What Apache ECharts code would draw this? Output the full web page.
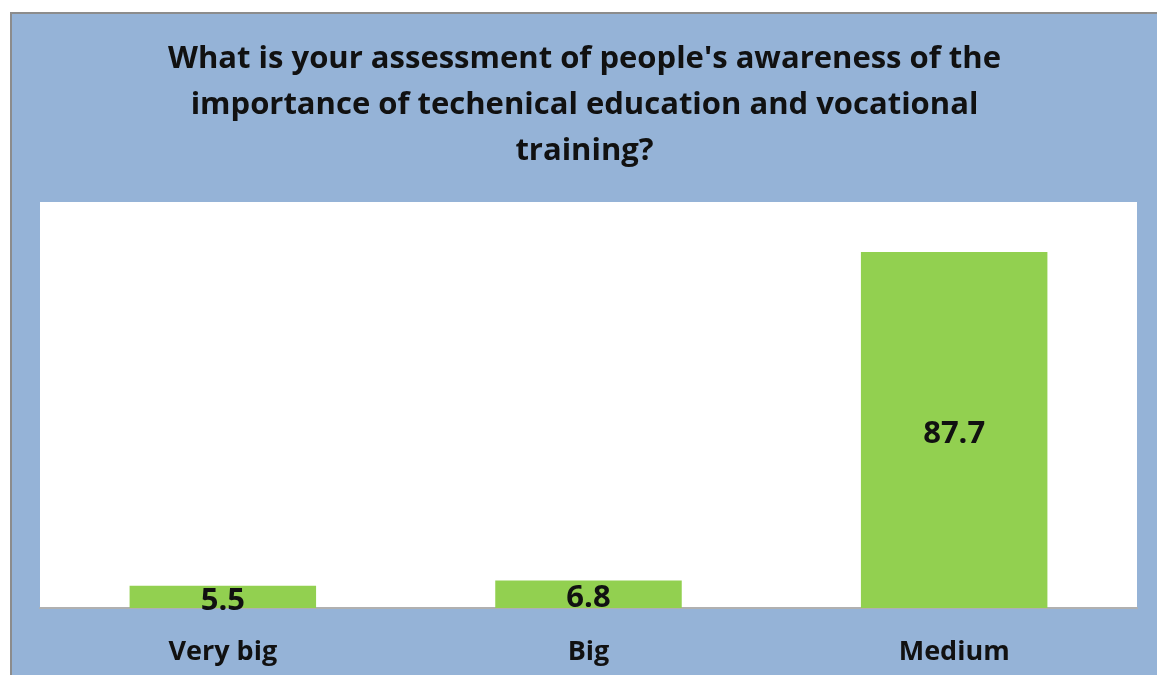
<!DOCTYPE html>
<html>
<head>
<meta charset="utf-8">
<script src="https://cdn.jsdelivr.net/npm/echarts@6/dist/echarts.min.js"></script>
<style>
  html, body { margin: 0; padding: 0; background: #ffffff; width: 1157px; height: 675px; overflow: hidden; }
  #wrap { position: absolute; left: 10px; top: 12px; width: 1147px; height: 663px; border-left: 2px solid #8c8c8c; border-top: 2px solid #8c8c8c; background: #95B3D7; }
  #chart { width: 1145px; height: 661px; }
</style>
</head>
<body>
<div id="wrap"><div id="chart"></div></div>
<script>
const titleText = "What is your assessment of people's awareness of the\nimportance of techenical education and vocational\ntraining?";
const categories = ["Very big", "Big", "Medium"];
const values = [5.5, 6.8, 87.7];

const chart = echarts.init(document.getElementById('chart'));
chart.setOption({
  backgroundColor: '#95B3D7',
  animation: false,
  title: {
    text: titleText,
    left: 'center',
    top: 17,
    textStyle: { fontFamily: 'Open Sans', fontWeight: 'bold', fontSize: 31, lineHeight: 46, color: '#111111' }
  },
  grid: { left: 28, top: 188, right: 20, bottom: 67, show: true, backgroundColor: '#ffffff', borderWidth: 0 },
  xAxis: {
    type: 'category',
    data: categories,
    axisLine: { show: true, lineStyle: { color: '#b0b0b0', width: 2 } },
    axisTick: { show: false },
    axisLabel: { fontFamily: 'Open Sans', fontWeight: 'bold', fontSize: 27, color: '#111111', margin: 31 }
  },
  yAxis: {
    type: 'value', min: 0, max: 100,
    show: false, splitLine: { show: false }
  },
  series: [{
    type: 'bar',
    data: values,
    barWidth: '51%',
    itemStyle: { color: '#92D050' },
    label: {
      show: true, position: 'inside', offset: [0, 4],
      fontFamily: 'Open Sans', fontWeight: 'bold', fontSize: 31, color: '#111111'
    }
  }]
});
</script>
</body>
</html>
